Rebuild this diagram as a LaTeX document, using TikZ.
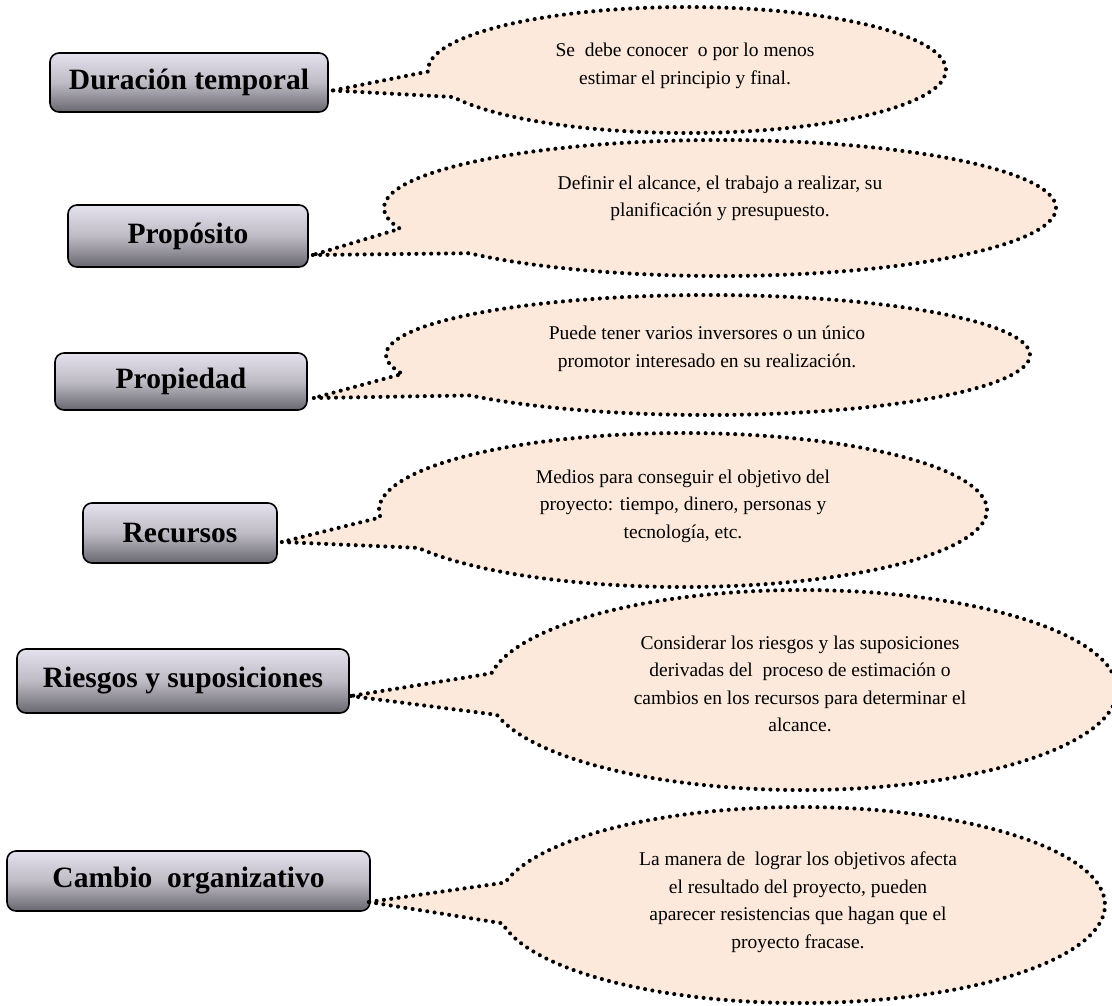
\documentclass[tikz,border=0pt]{standalone}
\usepackage{fontspec}
\setmainfont{Liberation Serif}
\usetikzlibrary{shapes.callouts,calc}

\definecolor{bubblefill}{RGB}{252,233,219}
\definecolor{boxtop}{RGB}{229,225,237}
\definecolor{boxmid}{RGB}{190,187,197}
\definecolor{boxbot}{RGB}{104,102,110}

\tikzset{
  labelbox/.style={draw=black, line width=1.6pt, rounded corners=9pt,
    top color=boxtop, bottom color=boxbot, middle color=boxmid,
    inner sep=0pt, font=\fontsize{29.5}{34}\selectfont\bfseries},
  bubble/.style={ellipse callout, fill=bubblefill, draw=black,
    line width=4.1pt, dash pattern=on 0pt off 7.4pt, line cap=round,
    inner sep=0pt, outer sep=0pt, callout pointer arc=24},
  bubbletext/.style={align=center, inner sep=0pt,
    font=\fontsize{19.5}{27.5}\selectfont}
}

\begin{document}
\begin{tikzpicture}[x=1pt,y=-1pt]
\useasboundingbox (0,0) rectangle (1112,1005);

% feature boxes on the left
\node[labelbox, minimum width=278pt, minimum height=59pt] (b1) at (189,82.5) {Duración temporal};
\node[labelbox, minimum width=240pt, minimum height=62pt] (b2) at (188,236) {Propósito};
\node[labelbox, minimum width=252pt, minimum height=57pt] (b3) at (181,381.5) {Propiedad};
\node[labelbox, minimum width=194pt, minimum height=60pt] (b4) at (180,533) {Recursos};
\node[labelbox, minimum width=332pt, minimum height=64pt] (b5) at (183,681) {Riesgos y suposiciones};
\node[labelbox, minimum width=363pt, minimum height=60pt] (b6) at (188.5,881) {Cambio~ organizativo};

% where each speech bubble points
\coordinate (t1) at ($(b1.east)+(4,8)$);
\coordinate (t2) at ($(b2.east)+(4,19)$);
\coordinate (t3) at ($(b3.east)+(6,16.5)$);
\coordinate (t4) at ($(b4.east)+(4,9)$);
\coordinate (t5) at ($(b5.east)+(1,15)$);
\coordinate (t6) at ($(b6.east)+(-2,21)$);

% dotted speech bubbles
\node[bubble, minimum width=518pt, minimum height=126pt, callout absolute pointer={(t1)}] (e1) at (687,70) {};
\node[bubble, minimum width=672pt, minimum height=136pt, callout absolute pointer={(t2)}] (e2) at (720,208) {};
\node[bubble, minimum width=644pt, minimum height=120pt, callout absolute pointer={(t3)}] (e3) at (708,355) {};
\node[bubble, minimum width=608pt, minimum height=154pt, callout absolute pointer={(t4)}] (e4) at (683,510) {};
\node[bubble, minimum width=630pt, minimum height=200pt, callout absolute pointer={(t5)}] (e5) at (802,690) {};
\node[bubble, minimum width=608pt, minimum height=196pt, callout absolute pointer={(t6)}] (e6) at (801,905) {};

% bubble texts
\node[bubbletext] (x1) at (685,66) {Se~ debe conocer~ o por lo menos\\estimar el principio y final.};
\node[bubbletext] (x2) at (720,198) {Definir el alcance, el trabajo a realizar, su\\planificación y presupuesto.};
\node[bubbletext] (x3) at (707,349) {Puede tener varios inversores o un único\\promotor interesado en su realización.};
\node[bubbletext] (x4) at (683,506) {Medios para conseguir el objetivo del\\proyecto: tiempo, dinero, personas y\\tecnología, etc.};
\node[bubbletext] (x5) at (800,684) {Considerar los riesgos y las suposiciones\\derivadas del~ proceso de estimación o\\cambios en los recursos para determinar el\\alcance.};
\node[bubbletext] (x6) at (798,902) {La manera de~ lograr los objetivos afecta\\el resultado del proyecto, pueden\\aparecer resistencias que hagan que el\\proyecto fracase.};
\end{tikzpicture}
\end{document}
